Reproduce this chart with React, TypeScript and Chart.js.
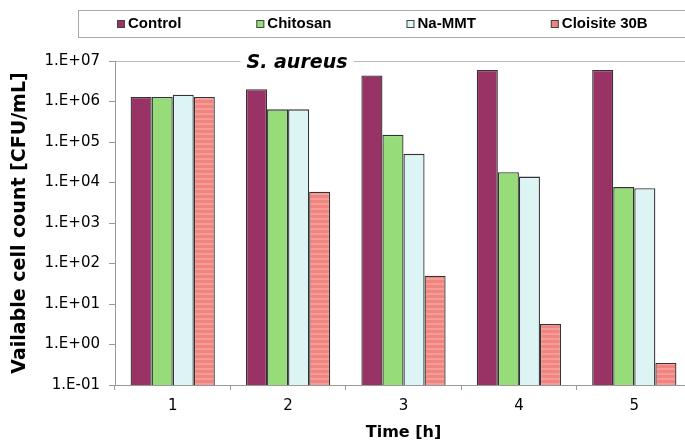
import React, { useEffect, useRef } from "react";
import { Chart, registerables } from "chart.js";

Chart.register(...registerables);

const categories = ["1", "2", "3", "4", "5"];
const seriesNames = ["Control", "Chitosan", "Na-MMT", "Cloisite 30B"];
const controlValues = [1.3e6, 2.0e6, 4.4e6, 6.0e6, 6.0e6];
const chitosanValues = [1.3e6, 6.4e5, 1.5e5, 1.8e4, 7.7e3];
const naMmtValues = [1.47e6, 6.4e5, 5.1e4, 1.4e4, 7.2e3];
const cloisiteValues = [1.3e6, 5.9e3, 50, 3.2, 0.35];
const yTickValues = [1e-1, 1e0, 1e1, 1e2, 1e3, 1e4, 1e5, 1e6, 1e7];
const yTickLabels = ["1.E-01", "1.E+00", "1.E+01", "1.E+02", "1.E+03", "1.E+04", "1.E+05", "1.E+06", "1.E+07"];

const seriesColors = ["#993366", "#96DC78", "#DDF4F4", "#F0837E"];

function makeStripePattern(): CanvasPattern | string {
  const pc = document.createElement("canvas");
  pc.width = 4;
  pc.height = 5;
  const c = pc.getContext("2d");
  if (!c) return seriesColors[3];
  c.fillStyle = "#F1847F";
  c.fillRect(0, 0, 4, 5);
  c.fillStyle = "#F49D98";
  c.fillRect(0, 3, 4, 2);
  const p = c.createPattern(pc, "repeat");
  return p || seriesColors[3];
}

const legendPlugin = {
  id: "boxLegend",
  afterDraw(chart: any) {
    const ctx = chart.ctx;
    ctx.save();
    ctx.strokeStyle = "#aaaaaa";
    ctx.lineWidth = 1;
    ctx.strokeRect(78.5, 10.5, 700, 27);
    ctx.font = "bold 15px 'Liberation Sans', Arial, sans-serif";
    ctx.textBaseline = "middle";
    ctx.textAlign = "left";
    let x = 117;
    seriesNames.forEach((name, i) => {
      ctx.fillStyle = seriesColors[i];
      ctx.fillRect(x, 20, 8, 8);
      ctx.strokeStyle = "#444";
      ctx.strokeRect(x + 0.5, 20.5, 7, 7);
      ctx.fillStyle = "#000";
      ctx.fillText(name, x + 11, 24);
      x += 11 + ctx.measureText(name).width + 75;
    });
    // in-plot title
    ctx.font = "italic bold 19px 'DejaVu Sans', sans-serif";
    const t = "S. aureus";
    const w = ctx.measureText(t).width;
    const cx = 297;
    ctx.fillStyle = "#fff";
    ctx.fillRect(cx - w / 2 - 6, 57, w + 12, 8);
    ctx.fillStyle = "#000";
    ctx.textAlign = "center";
    ctx.fillText(t, cx, 63);
    ctx.restore();
  },
};

export default function App() {
  const ref = useRef<HTMLCanvasElement>(null);
  useEffect(() => {
    if (!ref.current) return;
    const stripe = makeStripePattern();
    const chart = new Chart(ref.current, {
      type: "bar",
      data: {
        labels: categories,
        datasets: [
          { label: seriesNames[0], data: controlValues, backgroundColor: seriesColors[0] },
          { label: seriesNames[1], data: chitosanValues, backgroundColor: seriesColors[1] },
          { label: seriesNames[2], data: naMmtValues, backgroundColor: seriesColors[2] },
          { label: seriesNames[3], data: cloisiteValues, backgroundColor: stripe as any },
        ].map((d) => ({
          ...d,
          borderColor: "#333333",
          borderWidth: 1.3,
          categoryPercentage: 0.73,
          barPercentage: 1.0,
        })),
      },
      options: {
        animation: false,
        responsive: false,
        maintainAspectRatio: false,
        layout: { padding: { top: 61, left: 0, right: 18, bottom: 0 } },
        plugins: {
          legend: { display: false },
          tooltip: { enabled: false },
          title: { display: false },
        },
        scales: {
          x: {
            afterFit: (s: any) => {
              s.height = 60;
            },
            grid: {
              drawOnChartArea: false,
              tickLength: 5,
              tickColor: "#999",
              offset: true,
            },
            border: { color: "#999" },
            ticks: {
              color: "#000",
              padding: 7,
              font: { family: "'DejaVu Sans', sans-serif", size: 15 },
            },
            title: {
              display: true,
              text: "Time [h]",
              color: "#000",
              font: { family: "'DejaVu Sans', sans-serif", size: 16, weight: "bold" },
              padding: { top: 0, bottom: 3 },
            },
          },
          y: {
            type: "logarithmic",
            min: 0.1,
            max: 1e7,
            afterFit: (s: any) => {
              s.width = 115;
            },
            afterBuildTicks: (s: any) => {
              s.ticks = yTickValues.map((v) => ({ value: v }));
            },
            grid: {
              color: (c: any) => (c.tick && c.tick.value === 1e7 ? "#bbbbbb" : "rgba(0,0,0,0)"),
              tickColor: "#999",
              tickLength: 6,
            },
            border: { color: "#999" },
            ticks: {
              color: "#000",
              padding: 9,
              autoSkip: false,
              font: { family: "'DejaVu Sans', sans-serif", size: 15 },
              callback: (_v: any, i: number) => yTickLabels[i],
            },
            title: {
              display: true,
              text: "Vailable cell count [CFU/mL]",
              color: "#000",
              font: { family: "'DejaVu Sans', sans-serif", size: 19, weight: "bold" },
              padding: { top: 9, bottom: 0 },
            },
          },
        },
      },
      plugins: [legendPlugin],
    });
    return () => chart.destroy();
  }, []);
  return (
    <div
      style={{
        position: "fixed",
        left: 0,
        top: 0,
        width: 685,
        height: 445,
        overflow: "hidden",
        background: "#fff",
      }}
    >
      <canvas ref={ref} width={710} height={445} style={{ width: 710, height: 445, display: "block" }} />
    </div>
  );
}
